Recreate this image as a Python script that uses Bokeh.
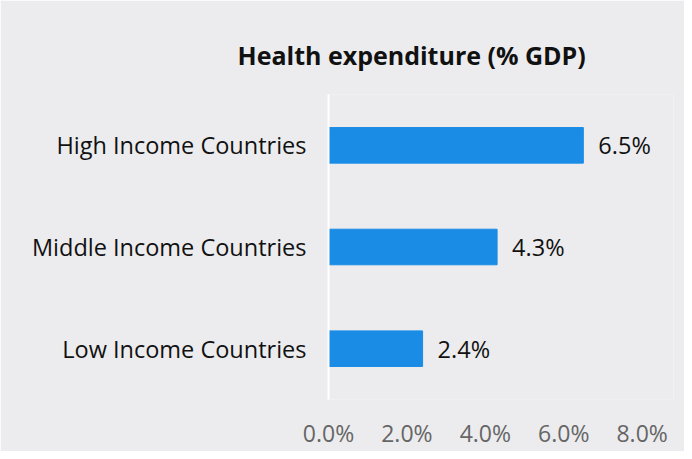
from bokeh.plotting import figure
from bokeh.models import ColumnDataSource, FixedTicker, CustomJSTickFormatter, Title
from bokeh.core.properties import value
from bokeh.embed import file_html
from bokeh.resources import INLINE

categories = ["Low Income Countries", "Middle Income Countries", "High Income Countries"]
values = [2.4, 4.3, 6.5]
value_labels = ["2.4%", "4.3%", "6.5%"]
x_ticks = [0, 2, 4, 6, 8]

BG = "#ECECEE"
BAR = "#1A8CE5"
FONT = "Open Sans"

W, H = 684, 451
ML, MR, MT, MB = 328, 11, 94, 49

src = ColumnDataSource(dict(cat=categories, val=values, lab=value_labels))

p = figure(y_range=categories, x_range=(0, 8.8), width=W, height=H,
           output_backend="svg", toolbar_location=None,
           min_border_left=ML, min_border_right=MR, min_border_top=MT, min_border_bottom=MB)
p.background_fill_color = BG
p.border_fill_color = BG
p.outline_line_color = None
p.grid.visible = False

p.hbar(y="cat", right="val", height=0.35, source=src, color=BAR)
p.text(x="val", y="cat", text="lab", source=src, x_offset=15, text_baseline="middle",
       text_font=value(FONT), text_font_size="23.5px", text_color="#111111")

p.yaxis.axis_line_color = "white"
p.yaxis.axis_line_width = 2
p.yaxis.major_tick_line_color = None
p.yaxis.minor_tick_line_color = None
p.yaxis.major_label_standoff = 16
p.yaxis.major_label_text_font = FONT
p.yaxis.major_label_text_font_size = "23.5px"
p.yaxis.major_label_text_color = "#111111"

p.xaxis.ticker = FixedTicker(ticks=x_ticks)
p.xaxis.formatter = CustomJSTickFormatter(code="return tick.toFixed(1) + '%';")
p.xaxis.axis_line_color = None
p.xaxis.major_tick_line_color = None
p.xaxis.minor_tick_line_color = None
p.xaxis.major_label_standoff = 11
p.xaxis.major_label_text_font = FONT
p.xaxis.major_label_text_font_size = "23px"
p.xaxis.major_label_text_color = "#666666"

title = Title(text="Health expenditure (% GDP)", align="left", offset=-91, standoff=45,
              text_font=FONT, text_font_style="bold", text_font_size="25px", text_color="#111111")
p.add_layout(title, "above")

open("out.html", "w").write(file_html(p, INLINE))
